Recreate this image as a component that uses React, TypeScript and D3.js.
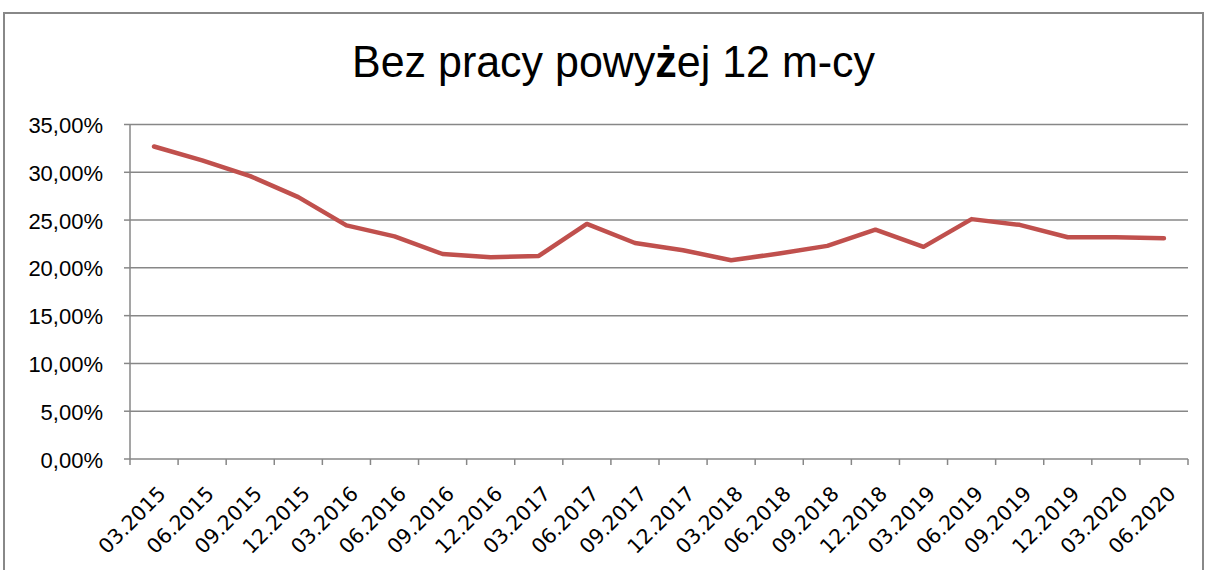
import React from "react";
import * as d3 from "d3";

const categories = [
  "03.2015","06.2015","09.2015","12.2015","03.2016","06.2016","09.2016","12.2016",
  "03.2017","06.2017","09.2017","12.2017","03.2018","06.2018","09.2018","12.2018",
  "03.2019","06.2019","09.2019","12.2019","03.2020","06.2020",
];
const values = [
  32.7, 31.25, 29.6, 27.4, 24.45, 23.3, 21.45, 21.1,
  21.25, 24.6, 22.6, 21.85, 20.8, 21.5, 22.3, 24.0,
  22.2, 25.1, 24.5, 23.2, 23.2, 23.1,
];
const yTicks = [0, 5, 10, 15, 20, 25, 30, 35];
const titleParts = ["Bez pracy powy", "ż", "ej 12 m-cy"];

export default function App() {
  const W = 1206, H = 570;
  const left = 130, right = 1188, top = 124.5, bottom = 459;
  const x = d3.scaleBand<string>().domain(categories).range([left, right]).padding(0);
  const y = d3.scaleLinear().domain([0, 35]).range([bottom, top]);
  const line = d3.line<number>()
    .x((_, i) => (x(categories[i]) as number) + x.bandwidth() / 2)
    .y((d) => y(d));
  const fmt = (v: number) => v.toFixed(2).replace(".", ",") + "%";
  const font = "'Liberation Sans', Arial, sans-serif";
  const xfont = "'DejaVu Sans', Verdana, sans-serif";
  const grid = "#878787";
  const ticksX = categories.map((c) => x(c) as number).concat([right]);

  return (
    <div style={{ position: "absolute", left: 0, top: 0 }}>
      <svg width={W} height={H} style={{ display: "block", background: "#fff" }}>
        <rect x={4} y={13} width={1199} height={600} fill="#fff" stroke="#888" strokeWidth={2} />
        <text
          x={352}
          y={77}
          textLength={523}
          lengthAdjust="spacingAndGlyphs"
          fontFamily={font}
          fontSize={44}
          fill="#000"
        >
          {titleParts[0]}
          <tspan fontWeight="bold">{titleParts[1]}</tspan>
          {titleParts[2]}
        </text>
        {yTicks.map((t) => (
          <g key={t}>
            <line x1={left} x2={right} y1={y(t)} y2={y(t)} stroke={grid} strokeWidth={1.5} />
            <line x1={left - 6} x2={left} y1={y(t)} y2={y(t)} stroke={grid} strokeWidth={1.5} />
            <text x={103} y={y(t) + 8.5} textAnchor="end" fontFamily={font} fontSize={22} fill="#000">
              {fmt(t)}
            </text>
          </g>
        ))}
        <line x1={left} x2={left} y1={top} y2={bottom} stroke={grid} strokeWidth={1.5} />
        {ticksX.map((tx, i) => (
          <line key={i} x1={tx} x2={tx} y1={bottom} y2={bottom + 6} stroke={grid} strokeWidth={1.5} />
        ))}
        {categories.map((c) => {
          const cx = (x(c) as number) + x.bandwidth() / 2 + 13;
          const cy = 495;
          return (
            <text
              key={c}
              x={cx}
              y={cy}
              textAnchor="end"
              transform={`rotate(-45 ${cx} ${cy})`}
              fontFamily={xfont}
              fontSize={20.5}
              fill="#000"
            >
              {c}
            </text>
          );
        })}
        <path d={line(values) || ""} fill="none" stroke="#C0504D" strokeWidth={4.5} strokeLinejoin="round" strokeLinecap="round" />
      </svg>
    </div>
  );
}
